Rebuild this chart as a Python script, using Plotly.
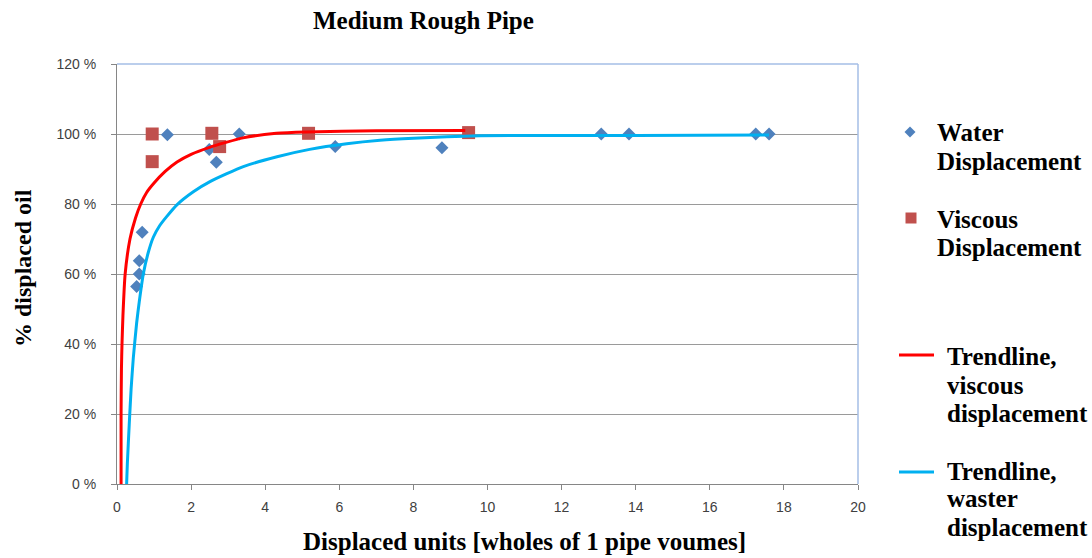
import plotly.graph_objects as go

# Measured points
water_x = [0.53, 0.6, 0.6, 0.68, 1.36, 2.49, 2.68, 3.3, 5.89, 8.77, 13.07, 13.82, 17.24, 17.6]
water_y = [56.4, 60, 63.8, 71.9, 99.8, 95.6, 91.9, 100, 96.4, 96.1, 100, 100, 100, 100]

viscous_x = [0.95, 0.95, 2.56, 2.77, 5.17, 9.49]
viscous_y = [100, 92.1, 100.2, 96.4, 100.2, 100.4]

# Fitted trendlines (sampled)
trend_viscous_x = [0.11, 0.11, 0.12, 0.135, 0.16, 0.22, 0.35, 0.5, 0.64, 0.8, 1.0, 1.3, 1.62,
                   2.0, 2.5, 3.4, 4.3, 5.1, 7.0, 9.4]
trend_viscous_y = [0, 20, 33, 40, 48, 60, 70, 76, 80, 83.3, 86, 89.3, 92,
                   94.2, 96.2, 98.9, 100.2, 100.6, 100.9, 101]

trend_water_x = [0.26, 0.28, 0.33, 0.38, 0.44, 0.53, 0.6, 0.71, 0.84, 0.98, 1.15, 1.34, 1.61,
                 2.06, 2.51, 3.41, 4.32, 5.2, 6.2, 7.1, 8.0, 8.9, 9.8, 12, 14, 17.6]
trend_water_y = [0, 6, 17, 27, 36, 46, 52, 60, 66, 70.5, 73.8, 76.4, 79.7,
                 83.5, 86.4, 90.7, 93.5, 95.6, 97.2, 98.2, 98.8, 99.2, 99.5, 99.6, 99.6, 99.7]

x_ticks = [0, 2, 4, 6, 8, 10, 12, 14, 16, 18, 20]
y_ticks = [0, 20, 40, 60, 80, 100, 120]
y_tick_text = ["0 %", "20 %", "40 %", "60 %", "80 %", "100 %", "120 %"]

W, H = 1092, 558
PLOT_L, PLOT_R, PLOT_T, PLOT_B = 117, 858, 64, 484


def px(x):
    return x / W


def py(y):
    return 1 - y / H


SERIF = "Liberation Serif"
SANS = "Liberation Sans"
TICK_COLOR = "#404040"
AXIS_COLOR = "#868686"
WATER_COLOR = "#4F81BD"
VISCOUS_COLOR = "#C0504D"
RED = "#FF0000"
BLUE = "#00B0F0"

fig = go.Figure()

fig.add_trace(go.Scatter(
    x=water_x, y=water_y, mode="markers", name="Water Displacement",
    marker=dict(symbol="diamond", size=10, color=WATER_COLOR),
))
fig.add_trace(go.Scatter(
    x=viscous_x, y=viscous_y, mode="markers", name="Viscous Displacement",
    marker=dict(symbol="square", size=13, color=VISCOUS_COLOR),
))
fig.add_trace(go.Scatter(
    x=trend_viscous_x, y=trend_viscous_y, mode="lines", name="Trendline, viscous displacement",
    line=dict(color=RED, width=3, shape="spline", smoothing=0.5),
))
fig.add_trace(go.Scatter(
    x=trend_water_x, y=trend_water_y, mode="lines", name="Trendline, waster displacement",
    line=dict(color=BLUE, width=3, shape="spline", smoothing=0.5),
))


def diamond_path(cx, cy, r):
    pts = [(cx, cy - r), (cx + r, cy), (cx, cy + r), (cx - r, cy)]
    return "M " + " L ".join(f"{px(a):.5f},{py(b):.5f}" for a, b in pts) + " Z"


# Legend symbols
legend_shapes = [
    dict(type="path", xref="paper", yref="paper", path=diamond_path(910, 132, 5.5),
         fillcolor=WATER_COLOR, line=dict(width=0)),
    dict(type="rect", xref="paper", yref="paper", x0=px(905.5), x1=px(916.5),
         y0=py(223.5), y1=py(212.5), fillcolor=VISCOUS_COLOR, line=dict(width=0)),
    dict(type="line", xref="paper", yref="paper", x0=px(899), x1=px(934),
         y0=py(355), y1=py(355), line=dict(color=RED, width=3)),
    dict(type="line", xref="paper", yref="paper", x0=px(899), x1=px(934),
         y0=py(472), y1=py(472), line=dict(color=BLUE, width=3)),
]

# Plot-area border (top and right)
border_shapes = [
    dict(type="line", xref="paper", yref="paper", x0=px(PLOT_L), x1=px(PLOT_R),
         y0=py(PLOT_T), y1=py(PLOT_T), line=dict(color="#A4BEE6", width=1.5)),
    dict(type="line", xref="paper", yref="paper", x0=px(PLOT_R), x1=px(PLOT_R),
         y0=py(PLOT_T), y1=py(PLOT_B), line=dict(color="#A4BEE6", width=1.5)),
]

# Legend text, one line per annotation: (text, left x, centre y)
legend_lines = [
    ("Water", 935, 132), ("Displacement", 935, 161),
    ("Viscous", 935, 219), ("Displacement", 935, 247),
    ("Trendline,", 945, 356), ("viscous", 945, 385), ("displacement", 945, 413),
    ("Trendline,", 945, 471), ("waster", 945, 499), ("displacement", 945, 527),
]

annotations = []
for text, lx, ly in legend_lines:
    annotations.append(dict(
        text=f"<b>{text}</b>", x=px(lx), y=py(ly), xref="paper", yref="paper",
        xanchor="left", yanchor="middle", align="left", showarrow=False,
        font=dict(family=SERIF, size=25, color="#000000"),
    ))

annotations += [
    dict(text="<b>Medium Rough Pipe</b>", x=px(423), y=py(20), xref="paper", yref="paper",
         xanchor="center", yanchor="middle", showarrow=False,
         font=dict(family=SERIF, size=25, color="#000000")),
    dict(text="<b>Displaced units [wholes of 1 pipe voumes]</b>", x=px(524), y=py(541),
         xref="paper", yref="paper", xanchor="center", yanchor="middle", showarrow=False,
         font=dict(family=SERIF, size=25, color="#000000")),
    dict(text="<b>% displaced oil</b>", x=px(23), y=py(268), xref="paper", yref="paper",
         xanchor="center", yanchor="middle", showarrow=False, textangle=-90,
         font=dict(family=SERIF, size=24, color="#000000")),
]

fig.update_layout(
    width=W, height=H,
    margin=dict(l=0, r=0, t=0, b=0, pad=0),
    paper_bgcolor="white", plot_bgcolor="white",
    showlegend=False,
    annotations=annotations,
    shapes=border_shapes + legend_shapes,
    xaxis=dict(
        domain=[px(PLOT_L), px(PLOT_R)], range=[0, 20], tickvals=x_ticks, automargin=False,
        showgrid=False, zeroline=False, showline=True, linecolor=AXIS_COLOR, linewidth=1,
        ticks="outside", ticklen=5, tickcolor=AXIS_COLOR,
        tickfont=dict(family=SANS, size=14, color=TICK_COLOR), ticklabelstandoff=5,
    ),
    yaxis=dict(
        domain=[py(PLOT_B), py(PLOT_T)], range=[0, 120], automargin=False,
        tickmode="array", tickvals=y_ticks, ticktext=y_tick_text,
        showgrid=True, gridcolor="#9a9a9a", gridwidth=1, zeroline=False,
        showline=True, linecolor=AXIS_COLOR, linewidth=1,
        ticks="outside", ticklen=5, tickcolor=AXIS_COLOR,
        tickfont=dict(family=SANS, size=14, color=TICK_COLOR), ticklabelstandoff=12,
    ),
)

fig.write_html("out.html")
